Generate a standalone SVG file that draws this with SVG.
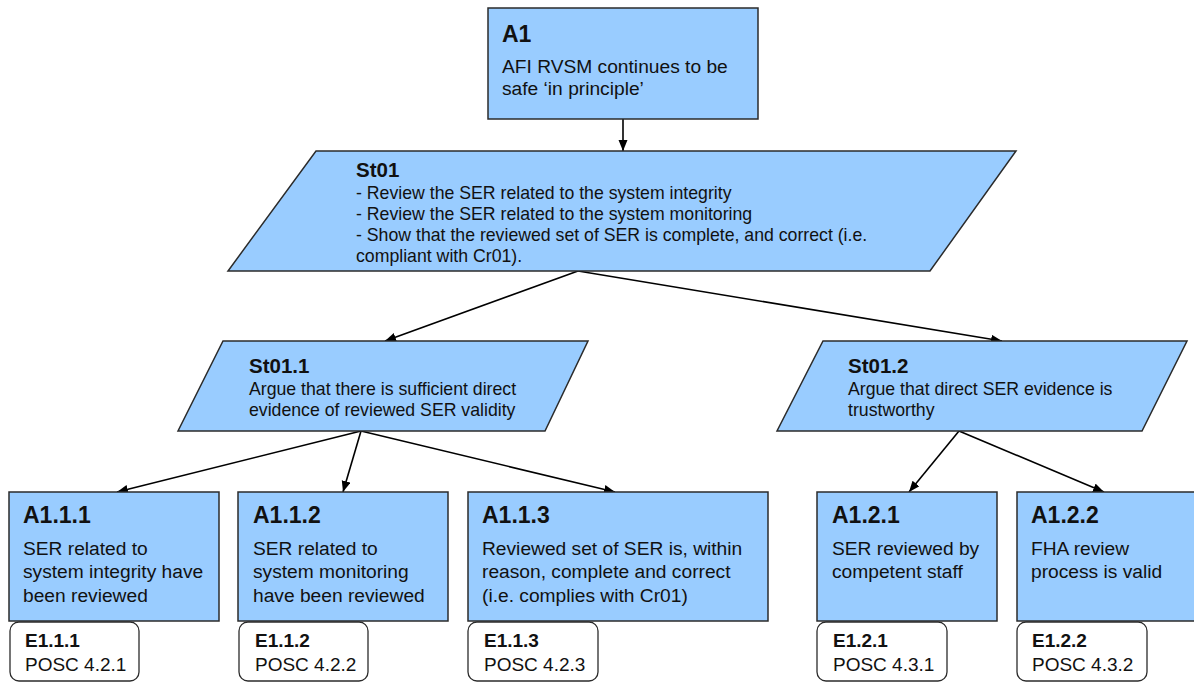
<svg xmlns="http://www.w3.org/2000/svg" width="1194" height="682" viewBox="0 0 1194 682">
<defs>
<marker id="ah" markerUnits="userSpaceOnUse" markerWidth="12" markerHeight="10" refX="11" refY="4.5" orient="auto">
<path d="M0,0 L11,4.5 L0,9 z" fill="#000"/>
</marker>
<style>
.box{fill:#99CCFF;stroke:#2b2b2b;stroke-width:1.5}
.ev{fill:#fff;stroke:#2b2b2b;stroke-width:1.3}
.t{font-family:"Liberation Sans",Arial,sans-serif;fill:#111}
.h{font-weight:bold;font-size:23px}
.hs{font-weight:bold;font-size:20.5px}
.b{font-size:19.2px}
.s{font-size:17.7px}
.eh{font-weight:bold;font-size:19px}
.eb{font-size:19px}
.c{stroke:#000;stroke-width:1.6;fill:none;marker-end:url(#ah)}
</style>
</defs>
<rect width="1194" height="682" fill="#fff"/>
<g id="connectors">
<line class="c" x1="623" y1="119" x2="623" y2="151"/>
<line class="c" x1="578" y1="271" x2="385" y2="341"/>
<line class="c" x1="578" y1="271" x2="1002" y2="341"/>
<line class="c" x1="361" y1="431" x2="117" y2="492"/>
<line class="c" x1="361" y1="431" x2="343" y2="492"/>
<line class="c" x1="361" y1="431" x2="615" y2="492"/>
<line class="c" x1="959" y1="431" x2="909" y2="492"/>
<line class="c" x1="959" y1="431" x2="1104" y2="492"/>
</g>
<g id="A1">
<rect class="box" x="488" y="8" width="270" height="111"/>
<text class="t h" x="502" y="42">A1</text>
<text class="t b" x="502" y="73">AFI RVSM continues to be</text>
<text class="t b" x="502" y="95">safe ‘in principle’</text>
</g>
<g id="St01">
<polygon class="box" points="316,151 1016,151 930,271 228,271"/>
<text class="t hs" x="356" y="177">St01</text>
<text class="t s" x="356" y="199">- Review the SER related to the system integrity</text>
<text class="t s" x="356" y="220">- Review the SER related to the system monitoring</text>
<text class="t s" x="356" y="241">- Show that the reviewed set of SER is complete, and correct (i.e.</text>
<text class="t s" x="356" y="262">compliant with Cr01).</text>
</g>
<g id="St01.1">
<polygon class="box" points="223,341 588,341 545,431 178,431"/>
<text class="t hs" x="249" y="373">St01.1</text>
<text class="t s" x="249" y="395">Argue that there is sufficient direct</text>
<text class="t s" x="249" y="416">evidence of reviewed SER validity</text>
</g>
<g id="St01.2">
<polygon class="box" points="823,341 1187,341 1142,431 777,431"/>
<text class="t hs" x="848" y="373">St01.2</text>
<text class="t s" x="848" y="395">Argue that direct SER evidence is</text>
<text class="t s" x="848" y="416">trustworthy</text>
</g>
<g id="A1.1.1">
<rect class="box" x="9" y="492" width="210" height="129"/>
<text class="t h" x="23" y="523">A1.1.1</text>
<text class="t b" x="23" y="555">SER related to</text>
<text class="t b" x="23" y="578">system integrity have</text>
<text class="t b" x="23" y="602">been reviewed</text>
</g>
<g id="A1.1.2">
<rect class="box" x="238" y="492" width="210" height="129"/>
<text class="t h" x="253" y="523">A1.1.2</text>
<text class="t b" x="253" y="555">SER related to</text>
<text class="t b" x="253" y="578">system monitoring</text>
<text class="t b" x="253" y="602">have been reviewed</text>
</g>
<g id="A1.1.3">
<rect class="box" x="468" y="492" width="300" height="129"/>
<text class="t h" x="482" y="523">A1.1.3</text>
<text class="t b" x="482" y="555">Reviewed set of SER is, within</text>
<text class="t b" x="482" y="578">reason, complete and correct</text>
<text class="t b" x="482" y="602">(i.e. complies with Cr01)</text>
</g>
<g id="A1.2.1">
<rect class="box" x="817" y="492" width="180" height="129"/>
<text class="t h" x="832" y="523">A1.2.1</text>
<text class="t b" x="832" y="555">SER reviewed by</text>
<text class="t b" x="832" y="578">competent staff</text>
</g>
<g id="A1.2.2">
<rect class="box" x="1017" y="492" width="180" height="129"/>
<text class="t h" x="1031" y="523">A1.2.2</text>
<text class="t b" x="1031" y="555">FHA review</text>
<text class="t b" x="1031" y="578">process is valid</text>
</g>
<g id="E1.1.1">
<rect class="ev" x="10" y="622" width="129" height="59" rx="9"/>
<text class="t eh" x="25" y="647">E1.1.1</text>
<text class="t eb" x="25" y="671">POSC 4.2.1</text>
</g>
<g id="E1.1.2">
<rect class="ev" x="239" y="622" width="129" height="59" rx="9"/>
<text class="t eh" x="255" y="647">E1.1.2</text>
<text class="t eb" x="255" y="671">POSC 4.2.2</text>
</g>
<g id="E1.1.3">
<rect class="ev" x="468" y="622" width="130" height="59" rx="9"/>
<text class="t eh" x="484" y="647">E1.1.3</text>
<text class="t eb" x="484" y="671">POSC 4.2.3</text>
</g>
<g id="E1.2.1">
<rect class="ev" x="817" y="622" width="130" height="59" rx="9"/>
<text class="t eh" x="833" y="647">E1.2.1</text>
<text class="t eb" x="833" y="671">POSC 4.3.1</text>
</g>
<g id="E1.2.2">
<rect class="ev" x="1017" y="622" width="130" height="59" rx="9"/>
<text class="t eh" x="1032" y="647">E1.2.2</text>
<text class="t eb" x="1032" y="671">POSC 4.3.2</text>
</g>
</svg>
